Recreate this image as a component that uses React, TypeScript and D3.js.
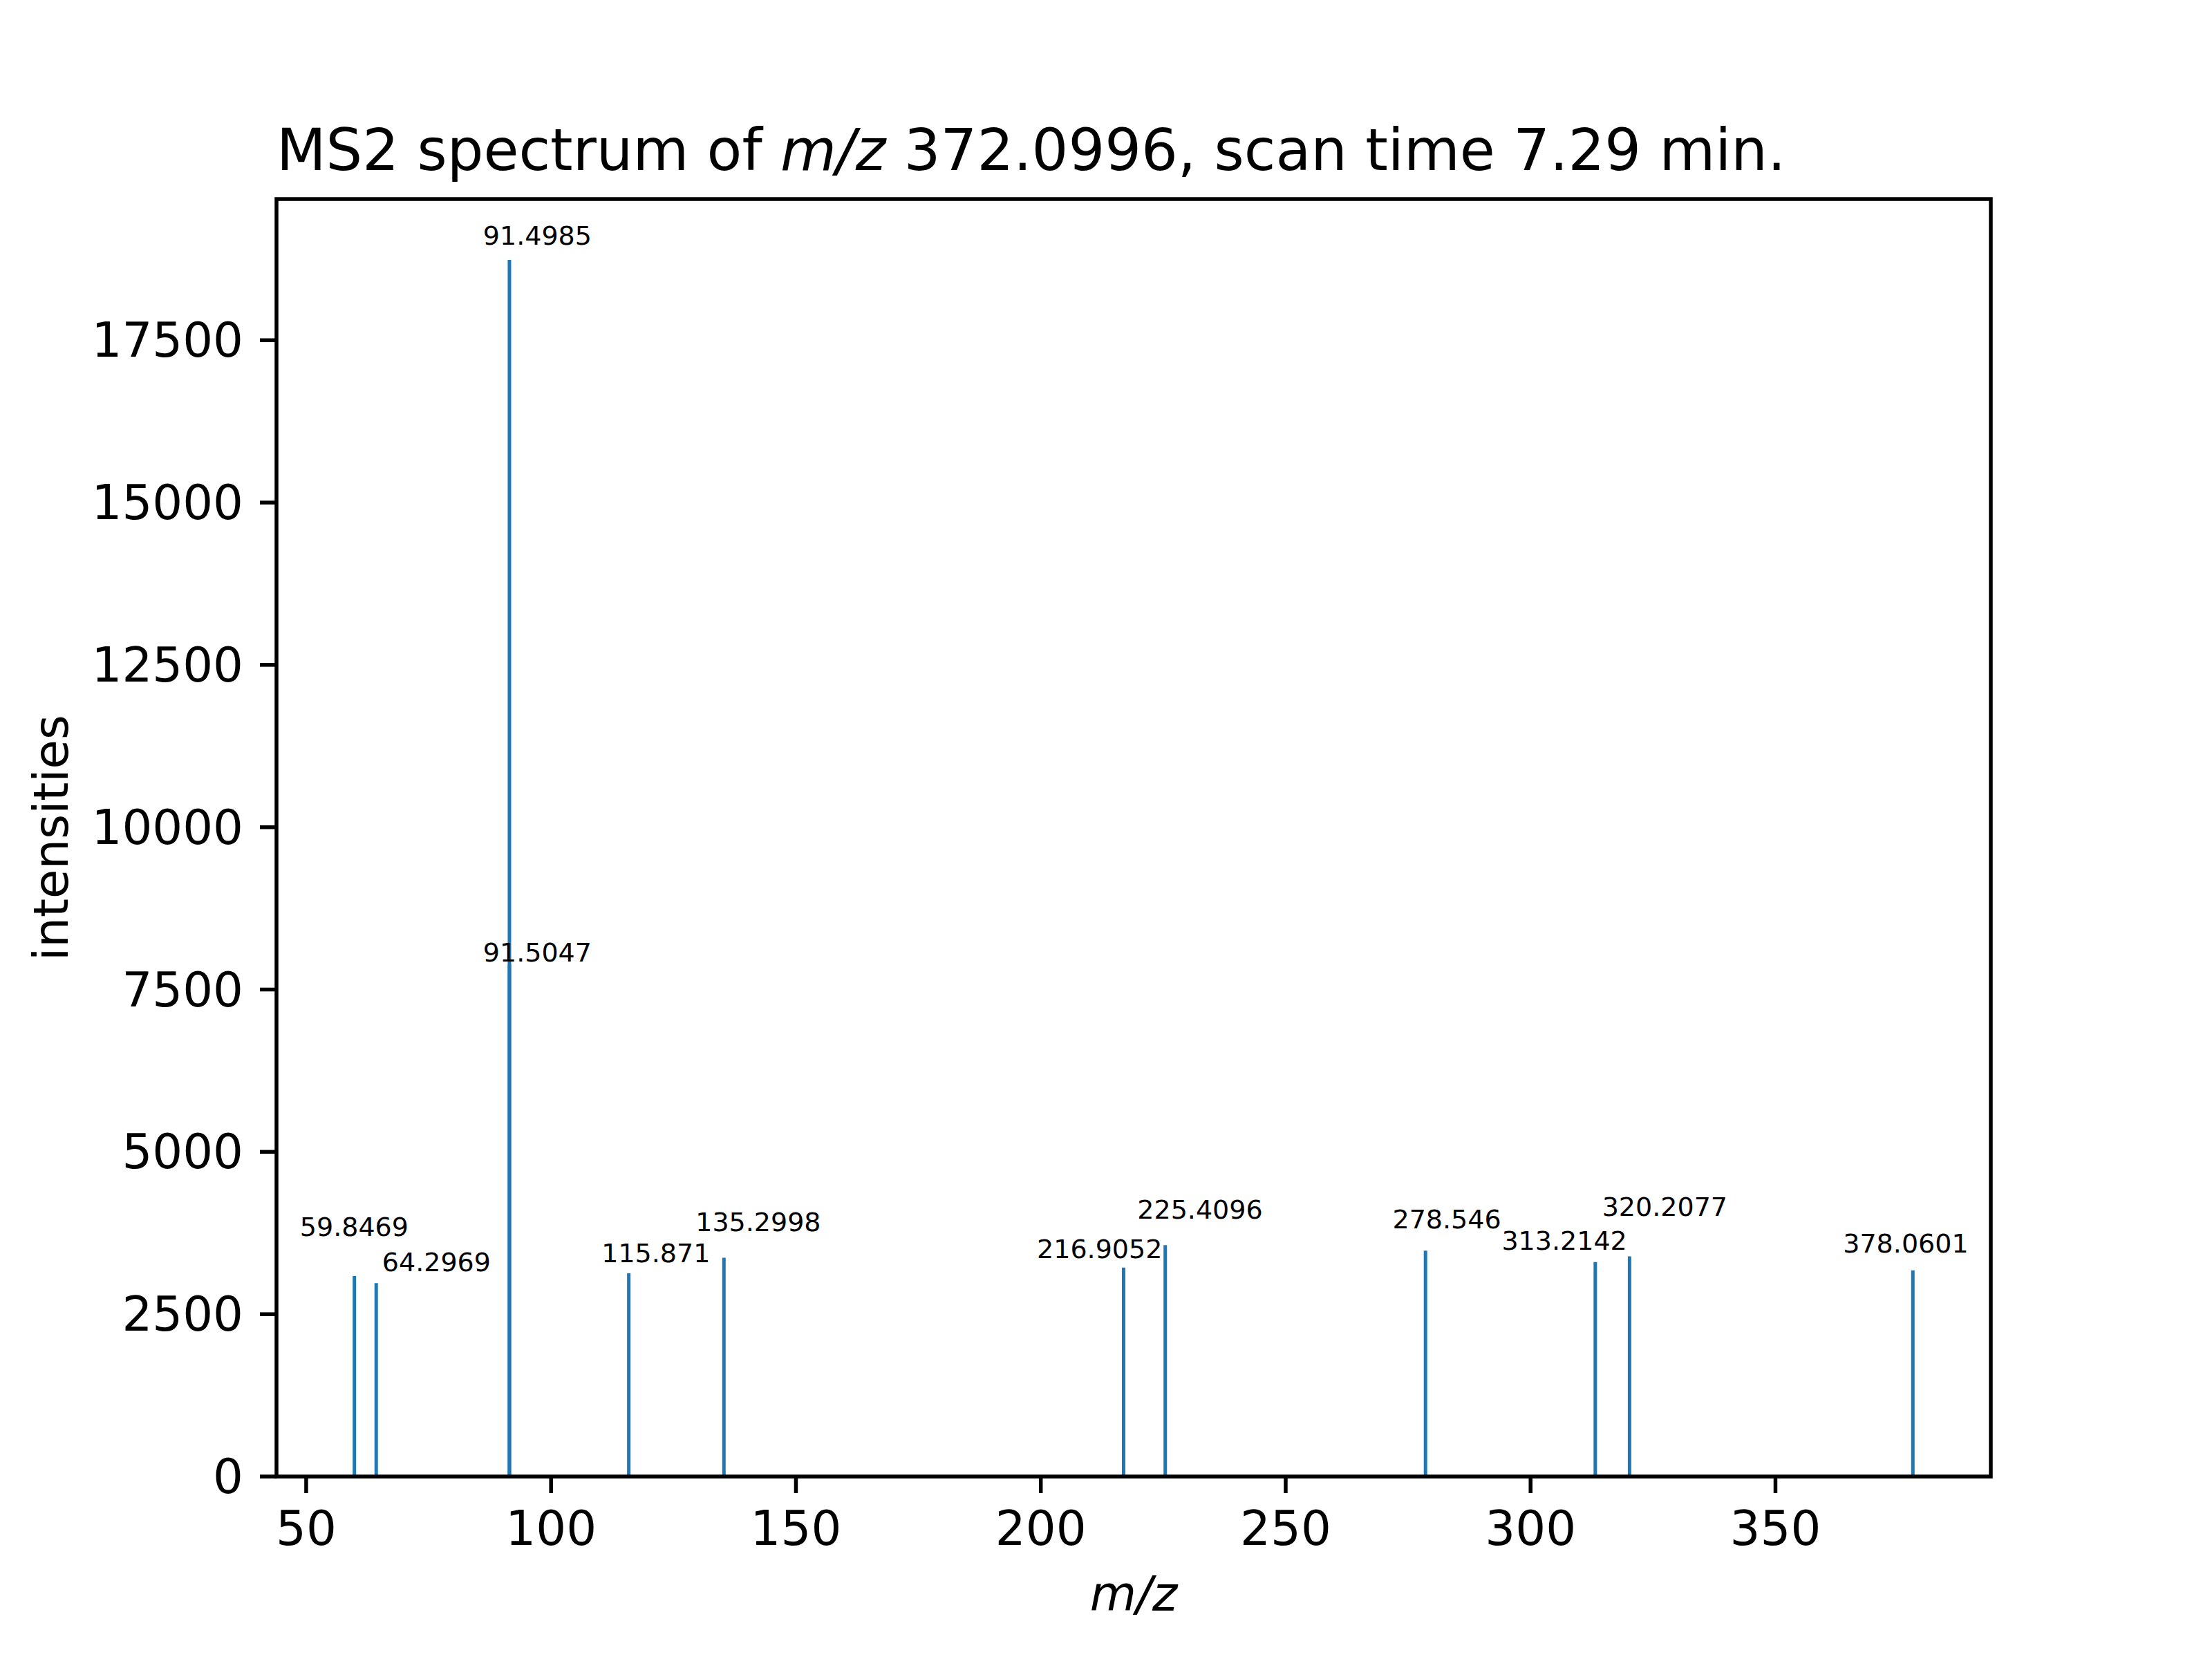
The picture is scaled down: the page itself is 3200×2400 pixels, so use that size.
import * as d3 from 'd3';

const mz = [59.8469, 64.2969, 91.4985, 91.5047, 115.871, 135.2998, 216.9052, 225.4096, 278.546, 313.2142, 320.2077, 378.0601];
const intensity = [3087, 2978, 18737, 7890, 3130, 3370, 3217, 3565, 3478, 3304, 3391, 3174];
const labelX = [59.8, 76.6, 97.2, 97.2, 121.4, 142.3, 212.0, 232.5, 282.9, 306.9, 327.4, 376.6];
const labelY = [3848, 3304, 19109, 8065, 3435, 3913, 3500, 4109, 3957, 3630, 4152, 3587];
const xTicks = [50, 100, 150, 200, 250, 300, 350];
const yTicks = [0, 2500, 5000, 7500, 10000, 12500, 15000, 17500];

const W = 3200, H = 2400;
const m = { left: 392, right: 2872, top: 280, bottom: 2128 };
const FONT = 'DejaVu Sans';

export default function App() {
  const x = d3.scaleLinear().domain([43.94, 393.97]).range([m.left, m.right]);
  const y = d3.scaleLinear().domain([0, 18737 * 1.05]).range([m.bottom, m.top]);
  const blue = '#1f77b4';
  return (
    <svg width={W} height={H} style={{ display: 'block', background: '#fff' }} fontFamily={FONT}>
      {mz.map((v, i) => (
        <line key={i} x1={x(v)} x2={x(v)} y1={y(0)} y2={y(intensity[i])} stroke={blue} strokeWidth={5} />
      ))}
      {mz.map((v, i) => (
        <text key={'l' + i} x={x(labelX[i])} y={y(labelY[i])} fontSize={38} textAnchor="middle" dominantBaseline="central">
          {String(v)}
        </text>
      ))}
      <rect x={m.left} y={m.top} width={m.right - m.left} height={m.bottom - m.top} fill="none" stroke="#000" strokeWidth={5.5} />
      {xTicks.map(t => (
        <g key={t}>
          <line x1={x(t)} x2={x(t)} y1={m.bottom} y2={m.bottom + 24} stroke="#000" strokeWidth={5.5} />
          <text x={x(t)} y={m.bottom + 48} fontSize={69} textAnchor="middle" dominantBaseline="hanging">{t}</text>
        </g>
      ))}
      {yTicks.map(t => (
        <g key={t}>
          <line x1={m.left - 24} x2={m.left} y1={y(t)} y2={y(t)} stroke="#000" strokeWidth={5.5} />
          <text x={m.left - 48} y={y(t)} fontSize={69} textAnchor="end" dominantBaseline="central">{t}</text>
        </g>
      ))}
      <text x={(m.left + m.right) / 2} y={2322} fontSize={69} textAnchor="middle" fontStyle="italic">m/z</text>
      <text transform={`translate(90, ${(m.top + m.bottom) / 2}) rotate(-90)`} fontSize={69} textAnchor="middle">intensities</text>
      <text x={m.left} y={m.top - 42} fontSize={83}>
        MS2 spectrum of <tspan fontStyle="italic">m/z</tspan> 372.0996, scan time 7.29 min.
      </text>
    </svg>
  );
}
